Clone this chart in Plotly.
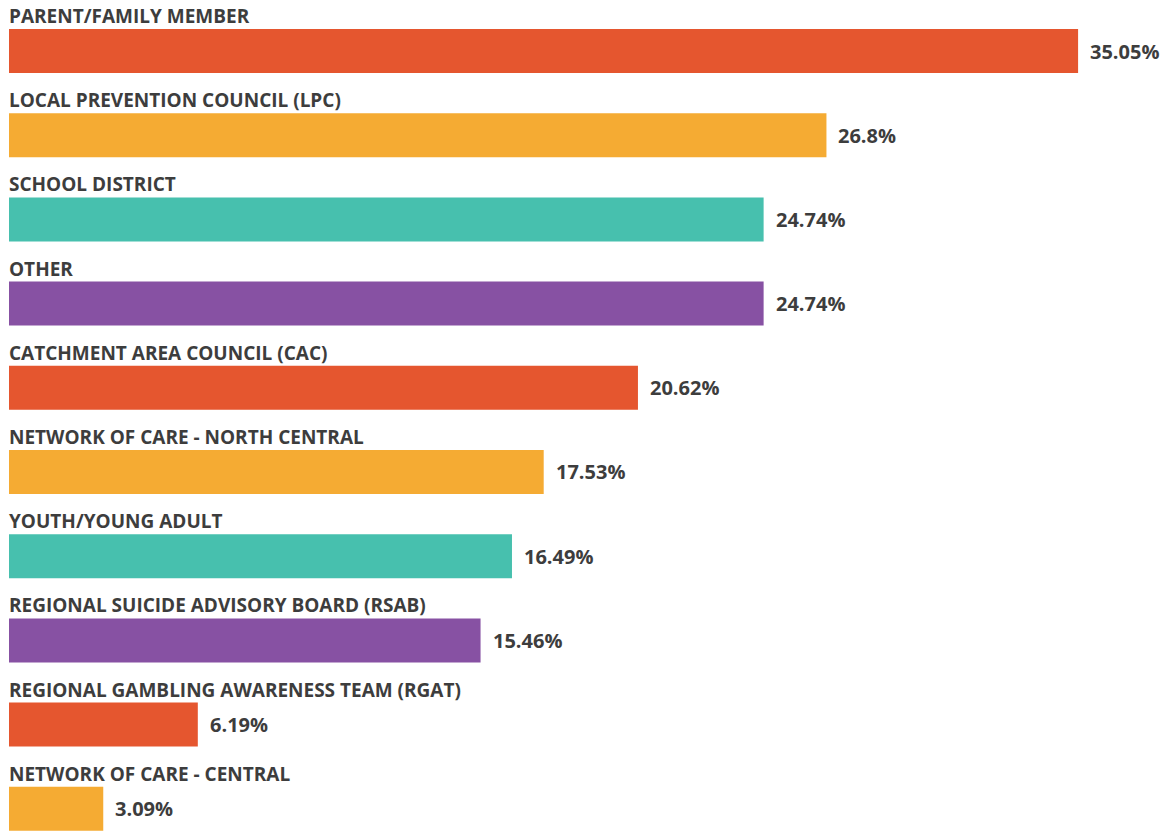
import plotly.graph_objects as go

categories = [
    "PARENT/FAMILY MEMBER",
    "LOCAL PREVENTION COUNCIL (LPC)",
    "SCHOOL DISTRICT",
    "OTHER",
    "CATCHMENT AREA COUNCIL (CAC)",
    "NETWORK OF CARE - NORTH CENTRAL",
    "YOUTH/YOUNG ADULT",
    "REGIONAL SUICIDE ADVISORY BOARD (RSAB)",
    "REGIONAL GAMBLING AWARENESS TEAM (RGAT)",
    "NETWORK OF CARE - CENTRAL",
]
values = [35.05, 26.8, 24.74, 24.74, 20.62, 17.53, 16.49, 15.46, 6.19, 3.09]
value_labels = ["35.05%", "26.8%", "24.74%", "24.74%", "20.62%", "17.53%", "16.49%", "15.46%", "6.19%", "3.09%"]
palette = ["#E5562F", "#F5AB33", "#47C0AE", "#8751A3"]
colors = [palette[i % 4] for i in range(len(categories))]

positions = list(range(len(categories)))
FONT = "Open Sans"
TEXT_COLOR = "#3d3d3d"

fig = go.Figure(go.Bar(
    x=values, y=positions, orientation="h",
    marker=dict(color=colors, line=dict(width=0)),
    width=0.5226, hoverinfo="skip",
))

annotations = []
for i, (cat, v, lab) in enumerate(zip(categories, values, value_labels)):
    annotations.append(dict(
        x=0, y=i, xref="x", yref="y", text=cat, showarrow=False,
        xanchor="left", yanchor="middle", yshift=35, xshift=-2,
        font=dict(family=FONT, size=19, color=TEXT_COLOR, weight="bold"),
    ))
    annotations.append(dict(
        x=v, y=i, xref="x", yref="y", text=lab, showarrow=False,
        xanchor="left", yanchor="middle", xshift=10,
        font=dict(family=FONT, size=20, color=TEXT_COLOR, weight="bold"),
    ))

fig.update_layout(
    width=1168, height=831,
    margin=dict(l=1, r=0, t=0, b=0),
    paper_bgcolor="white", plot_bgcolor="white",
    showlegend=False,
    xaxis=dict(range=[0, 38.26], visible=False, fixedrange=True),
    yaxis=dict(range=[9.359, -0.5107], visible=False, fixedrange=True),
    annotations=annotations,
)

fig.write_html("out.html")
